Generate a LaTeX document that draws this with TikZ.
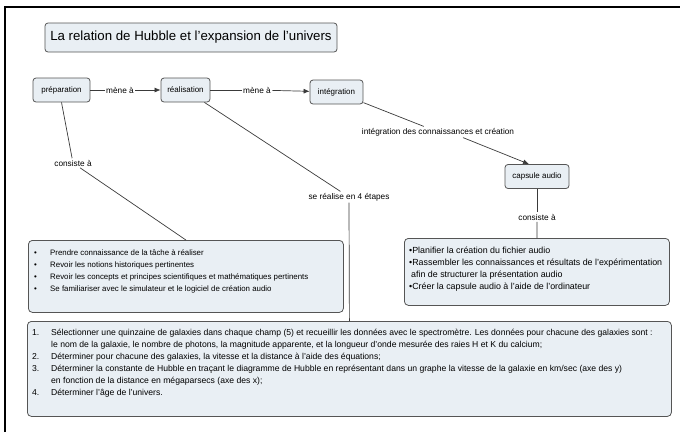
\documentclass[tikz,border=0pt]{standalone}
\usepackage{fontspec}
\setmainfont{Liberation Sans}
\usetikzlibrary{arrows.meta,calc}
\definecolor{boxfill}{HTML}{E9EFF4}
\definecolor{boxline}{HTML}{555555}
\definecolor{linkcol}{HTML}{3A3A3A}
\begin{document}
\begin{tikzpicture}[x=1bp,y=-1bp,
  txt/.style={font=\fontsize{8}{9}\selectfont},
  concept/.style={draw=boxline, fill=boxfill, rounded corners=3bp, line width=0.8bp, minimum height=24bp, inner xsep=2bp, txt},
  lbl/.style={font=\fontsize{8.3}{9}\selectfont, inner sep=1.5bp, fill=white},
  link/.style={draw=linkcol, line width=0.7bp},
  arr/.style={link, -{Latex[length=6bp,width=5bp]}},
  bigbox/.style={draw=boxline, fill=boxfill, rounded corners=4bp, line width=0.8bp, anchor=north west, inner sep=0},
  boxtext/.style={anchor=north west, align=left, inner sep=0}
]
\useasboundingbox (0,0) rectangle (680,432);
\draw[line width=1.3bp] (5,432) -- (5,7) -- (680,7);

% title
\node[concept, minimum width=292bp, minimum height=29bp, font=\fontsize{13.3}{15}\selectfont] (title) at (191,37.5) {La relation de Hubble et l'expansion de l'univers};

% concepts
\node[concept, minimum width=57bp] (prep) at (61.5,90) {préparation};
\node[concept, minimum width=49bp] (real) at (185.5,90) {réalisation};
\node[concept, minimum width=53bp] (integ) at (336.5,92) {intégration};
\node[concept, minimum width=64bp] (caps) at (537,176.5) {capsule audio};

% link labels
\node[lbl] (mene1) at (120,90) {mène à};
\node[lbl] (mene2) at (257,90) {mène à};
\node[lbl] (intlbl) at (438,132) {intégration des connaissances et création};
\node[lbl] (cons1) at (73,163) {consiste à};
\node[lbl] (etapes) at (349,197) {se réalise en 4 étapes};
\node[lbl] (cons2) at (537,217) {consiste à};

% boxes
\node[bigbox, minimum width=315bp, minimum height=72bp] (box1) at (28,240) {};
\node[bigbox, minimum width=265bp, minimum height=67bp] (box3) at (404,238) {};
\node[bigbox, minimum width=644bp, minimum height=95bp] (box2) at (27,321) {};

\node[boxtext, font=\fontsize{7.9}{12}\selectfont] (t1) at (34,247) {%
\begin{tabular}{@{}p{16bp}@{}l@{}}
•& Prendre connaissance de la tâche à réaliser\\
•& Revoir les notions historiques pertinentes\\
•& Revoir les concepts et principes scientifiques et mathématiques pertinents\\
•& Se familiariser avec le simulateur et le logiciel de création audio
\end{tabular}};

\node[boxtext, font=\fontsize{8.9}{12}\selectfont] (t3) at (409,245) {%
\begin{tabular}{@{}l@{}}
•Planifier la création du fichier audio\\
•Rassembler les connaissances et résultats de l'expérimentation\\
\hspace{2bp}afin de structurer la présentation audio\\
•Créer la capsule audio à l'aide de l'ordinateur
\end{tabular}};

\node[boxtext, font=\fontsize{8.65}{12}\selectfont] (t2) at (32,327) {%
\begin{tabular}{@{}p{19bp}@{}l@{}}
1.& Sélectionner une quinzaine de galaxies dans chaque champ (5) et recueillir les données avec le spectromètre. Les données pour chacune des galaxies sont :\\
& le nom de la galaxie, le nombre de photons, la magnitude apparente, et la longueur d'onde mesurée des raies H et K du calcium;\\
2.& Déterminer pour chacune des galaxies, la vitesse et la distance à l'aide des équations;\\
3.& Déterminer la constante de Hubble en traçant le diagramme de Hubble en représentant dans un graphe la vitesse de la galaxie en km/sec (axe des y)\\
& en fonction de la distance en mégaparsecs (axe des x);\\
4.& Déterminer l'âge de l'univers.
\end{tabular}};

% connectors
\draw[link] (prep) -- (mene1);
\draw[arr] (mene1) -- (real);
\draw[link] (real) -- (mene2);
\draw[arr] (mene2) -- (integ);
\draw[link] (integ) -- (intlbl);
\draw[arr] ($(intlbl.south)+(25,0)$) -- ($(caps.north)+(-8,0)$);
\draw[link] (prep.south) -- (cons1);
\draw[link] (cons1) -- (box1.north);
\draw[link] (real) -- (etapes);
\draw[link] (etapes.south) -- (box2.north);
\draw[link] (caps) -- (cons2);
\draw[link] (cons2) -- (box3.north);
\end{tikzpicture}
\end{document}
